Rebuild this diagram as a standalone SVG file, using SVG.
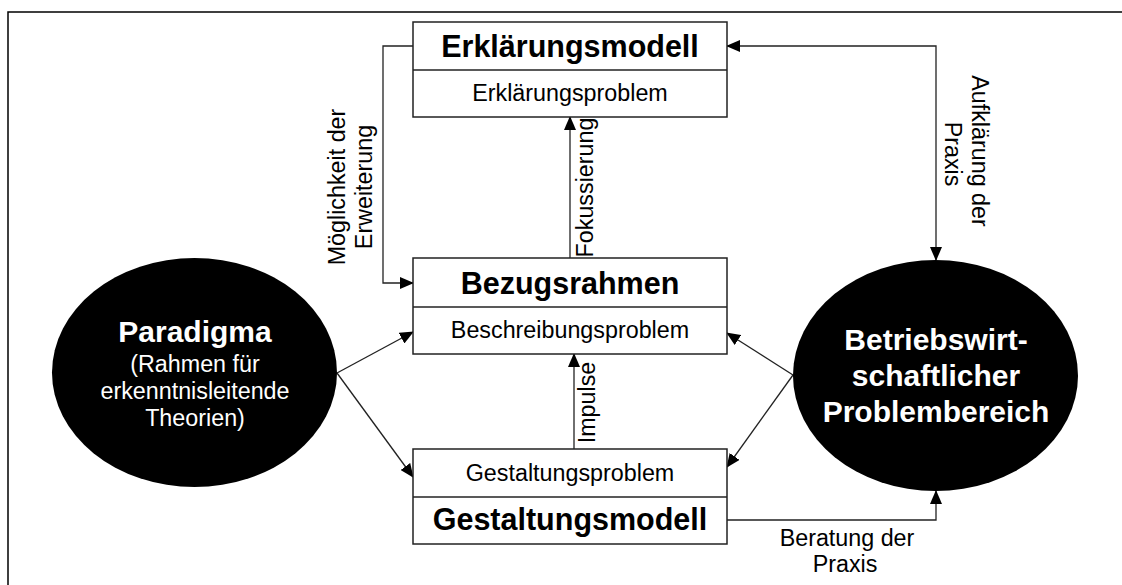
<svg xmlns="http://www.w3.org/2000/svg" width="1122" height="585" viewBox="0 0 1122 585">
<defs>
<marker id="ah" markerUnits="userSpaceOnUse" markerWidth="14" markerHeight="12" viewBox="0 0 14 12" refX="13" refY="6" orient="auto-start-reverse">
<path d="M0,0 L14,6 L0,12 Z" fill="#000"/>
</marker>
<style>
.box{fill:#fff;stroke:#222;stroke-width:1.5}
.div{stroke:#222;stroke-width:1.5}
.con{fill:none;stroke:#222;stroke-width:1.3}
.b{font-family:"Liberation Sans",Arial,sans-serif;font-weight:bold;font-size:30.5px;text-anchor:middle;fill:#000}
.r{font-family:"Liberation Sans",Arial,sans-serif;font-size:23.3px;text-anchor:middle;fill:#000}
.wb{font-family:"Liberation Sans",Arial,sans-serif;font-weight:bold;font-size:30px;text-anchor:middle;fill:#fff}
.wr{font-family:"Liberation Sans",Arial,sans-serif;font-size:23.3px;text-anchor:middle;fill:#fff}
</style>
</defs>
<rect x="8" y="12" width="1140" height="600" fill="#fff" stroke="#000" stroke-width="1.5"/>
<g id="connectors">
<path class="con" d="M413,46 H383 V283 H413" marker-end="url(#ah)"/>
<path class="con" d="M727,46 H936 V260" marker-start="url(#ah)" marker-end="url(#ah)"/>
<path class="con" d="M570,258 V117" marker-end="url(#ah)"/>
<path class="con" d="M574,449 V354" marker-end="url(#ah)"/>
<path class="con" d="M727,520 H936 V491" marker-end="url(#ah)"/>
<path class="con" d="M337,373 L413,332" marker-end="url(#ah)"/>
<path class="con" d="M337,373 L413,477" marker-end="url(#ah)"/>
<path class="con" d="M793,375 L727,333" marker-end="url(#ah)"/>
<path class="con" d="M793,375 L727,467" marker-end="url(#ah)"/>
<text class="r" transform="translate(593,187.5) rotate(-90)">Fokussierung</text>
<text class="r" transform="translate(595,402.5) rotate(-90)">Impulse</text>
<text class="r" transform="translate(345,187) rotate(-90)">Möglichkeit der</text>
<text class="r" transform="translate(372,187) rotate(-90)">Erweiterung</text>
<text class="r" transform="translate(972,151) rotate(90)">Aufklärung der</text>
<text class="r" transform="translate(945,154) rotate(90)">Praxis</text>
<text class="r" x="847" y="546">Beratung der</text>
<text class="r" x="845" y="572">Praxis</text>
</g>
<g id="erklaerungsmodell">
<rect class="box" x="413" y="22" width="314" height="95"/>
<line class="div" x1="413" y1="70" x2="727" y2="70"/>
<text class="b" x="570" y="57">Erklärungsmodell</text>
<text class="r" x="570" y="101">Erklärungsproblem</text>
</g>
<g id="bezugsrahmen">
<rect class="box" x="413" y="258" width="314" height="96"/>
<line class="div" x1="413" y1="307" x2="727" y2="307"/>
<text class="b" x="570" y="294">Bezugsrahmen</text>
<text class="r" x="570" y="338">Beschreibungsproblem</text>
</g>
<g id="gestaltungsmodell">
<rect class="box" x="413" y="449" width="314" height="95"/>
<line class="div" x1="413" y1="497" x2="727" y2="497"/>
<text class="r" x="570" y="481">Gestaltungsproblem</text>
<text class="b" x="570" y="530">Gestaltungsmodell</text>
</g>
<g id="paradigma">
<ellipse cx="194.5" cy="372.5" rx="142.5" ry="114.5" fill="#000"/>
<text class="wb" x="195" y="342">Paradigma</text>
<text class="wr" x="195" y="372">(Rahmen für</text>
<text class="wr" x="195" y="399">erkenntnisleitende</text>
<text class="wr" x="195" y="426">Theorien)</text>
</g>
<g id="problembereich">
<ellipse cx="935.5" cy="375.5" rx="142.5" ry="115.5" fill="#000"/>
<text class="wb" x="936" y="350">Betriebswirt-</text>
<text class="wb" x="936" y="386">schaftlicher</text>
<text class="wb" x="936" y="422">Problembereich</text>
</g>
</svg>
